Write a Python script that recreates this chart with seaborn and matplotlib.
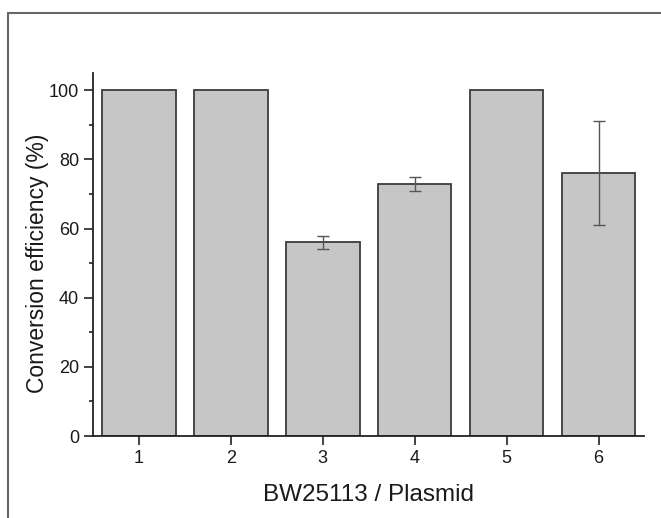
import numpy as np
import pandas as pd
import matplotlib.pyplot as plt
import matplotlib.patches as mpatches
from matplotlib.ticker import MultipleLocator
import seaborn as sns

# Data
samples = [1, 2, 3, 4, 5, 6]
efficiency = [100, 100, 56, 73, 100, 76]
errors = [0, 0, 2, 2, 0, 15]

df = pd.DataFrame({'sample': samples, 'eff': efficiency, 'err': errors})

sns.set_style('ticks')
plt.rcParams['font.family'] = ['Liberation Sans', 'DejaVu Sans']

fig = plt.figure(figsize=(6.61, 5.18), dpi=100)
ax = fig.add_axes([0.1407, 0.1583, 0.8343, 0.7007])

sns.barplot(data=df, x='sample', y='eff', native_scale=True, width=0.8,
            color='#c6c6c6', saturation=1, edgecolor='#3c3c3c', linewidth=1.3, ax=ax)

has_err = df[df['err'] > 0]
ax.errorbar(has_err['sample'], has_err['eff'], yerr=has_err['err'], fmt='none',
            ecolor='#555555', elinewidth=1, capsize=4, capthick=1)

ax.set_xlim(0.5, 6.5)
ax.set_ylim(0, 105)
ax.set_xticks(samples)
ax.set_xticklabels([str(s) for s in samples])
ax.yaxis.set_major_locator(MultipleLocator(20))
ax.yaxis.set_minor_locator(MultipleLocator(10))
ax.tick_params(axis='both', which='major', direction='out', length=6.5, width=1.2,
               labelsize=13, color='#222222', labelcolor='#1a1a1a')
ax.tick_params(axis='y', which='minor', direction='out', length=3, width=1.2, color='#222222')
for s in ['left', 'bottom']:
    ax.spines[s].set_linewidth(1.3)
    ax.spines[s].set_color('#222222')
sns.despine(ax=ax)

ax.set_xlabel('BW25113 / Plasmid', fontsize=17.5, labelpad=12, color='#1a1a1a')
ax.set_ylabel('Conversion efficiency (%)', fontsize=16.5, color='#1a1a1a')
ax.yaxis.set_label_coords(-0.079, 0.477)

# Outer frame around the figure
frame = mpatches.Rectangle((8 / 661, -0.1), 1.2, 0.1 + 1 - 13 / 518, transform=fig.transFigure,
                           fill=False, edgecolor='#666666', linewidth=1.5)
fig.patches.append(frame)

fig.savefig('out.png', dpi=100)
